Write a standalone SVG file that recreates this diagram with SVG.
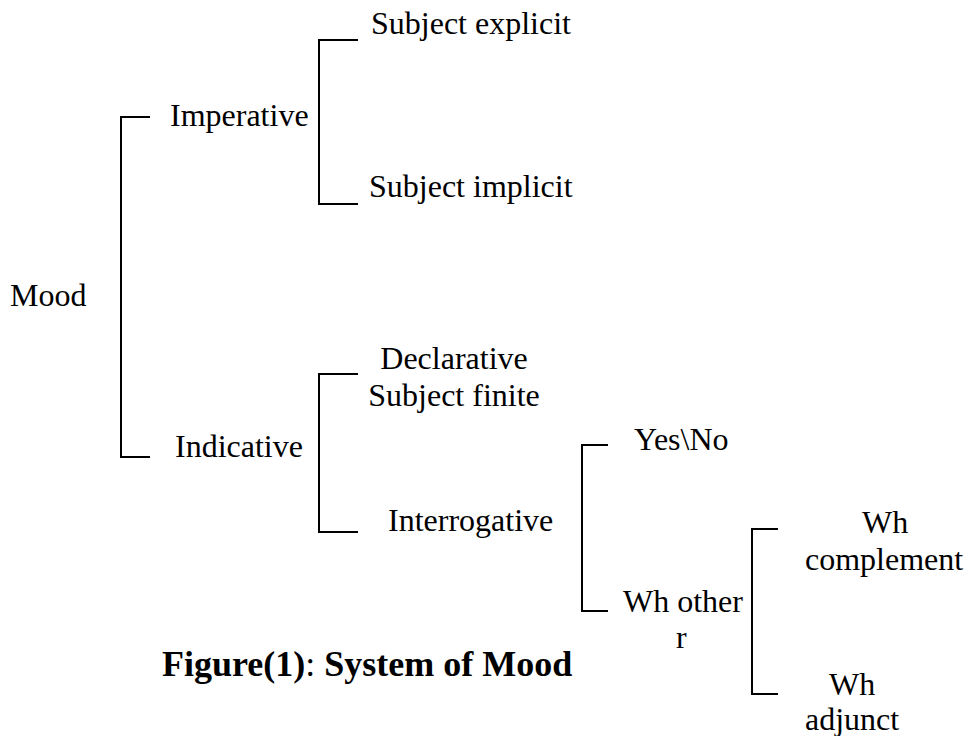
<svg xmlns="http://www.w3.org/2000/svg" width="968" height="736" viewBox="0 0 968 736">
<style>
  .t { font-family: "Liberation Serif", "Times New Roman", serif; font-size: 32px; fill: #000; }
  .m { text-anchor: middle; }
  .cap { font-family: "Liberation Serif", "Times New Roman", serif; font-size: 36px; font-weight: bold; fill: #000; }
  .br { fill: none; stroke: #000; stroke-width: 2; }
</style>
<rect width="968" height="736" fill="#fff"/>
<g id="connectors">
  <path class="br" d="M150,117 H121 V457 H150"/>
  <path class="br" d="M358,40 H319 V204 H358"/>
  <path class="br" d="M358,374 H319 V532 H358"/>
  <path class="br" d="M608,445 H582 V611 H608"/>
  <path class="br" d="M778,529 H752 V694 H778"/>
</g>
<g id="mood"><text class="t" x="10" y="306">Mood</text></g>
<g id="imperative"><text class="t" x="170" y="126">Imperative</text></g>
<g id="subject-explicit"><text class="t" x="371" y="34">Subject explicit</text></g>
<g id="subject-implicit"><text class="t" x="369" y="197">Subject implicit</text></g>
<g id="indicative"><text class="t" x="175" y="457">Indicative</text></g>
<g id="declarative"><text class="t m" x="454" y="369">Declarative</text><text class="t m" x="454" y="406">Subject finite</text></g>
<g id="interrogative"><text class="t" x="388" y="531">Interrogative</text></g>
<g id="yes-no"><text class="t" x="634" y="450">Yes\No</text></g>
<g id="wh-other"><text class="t" x="623" y="612">Wh other</text><text class="t" x="676" y="648">r</text></g>
<g id="wh-complement"><text class="t" x="862" y="533">Wh</text><text class="t" x="805" y="570">complement</text></g>
<g id="wh-adjunct"><text class="t" x="829" y="695">Wh</text><text class="t" x="805" y="730">adjunct</text></g>
<g id="caption"><text class="cap" x="162" y="676">Figure(1)<tspan font-weight="normal">:</tspan> System of Mood</text></g>
</svg>
